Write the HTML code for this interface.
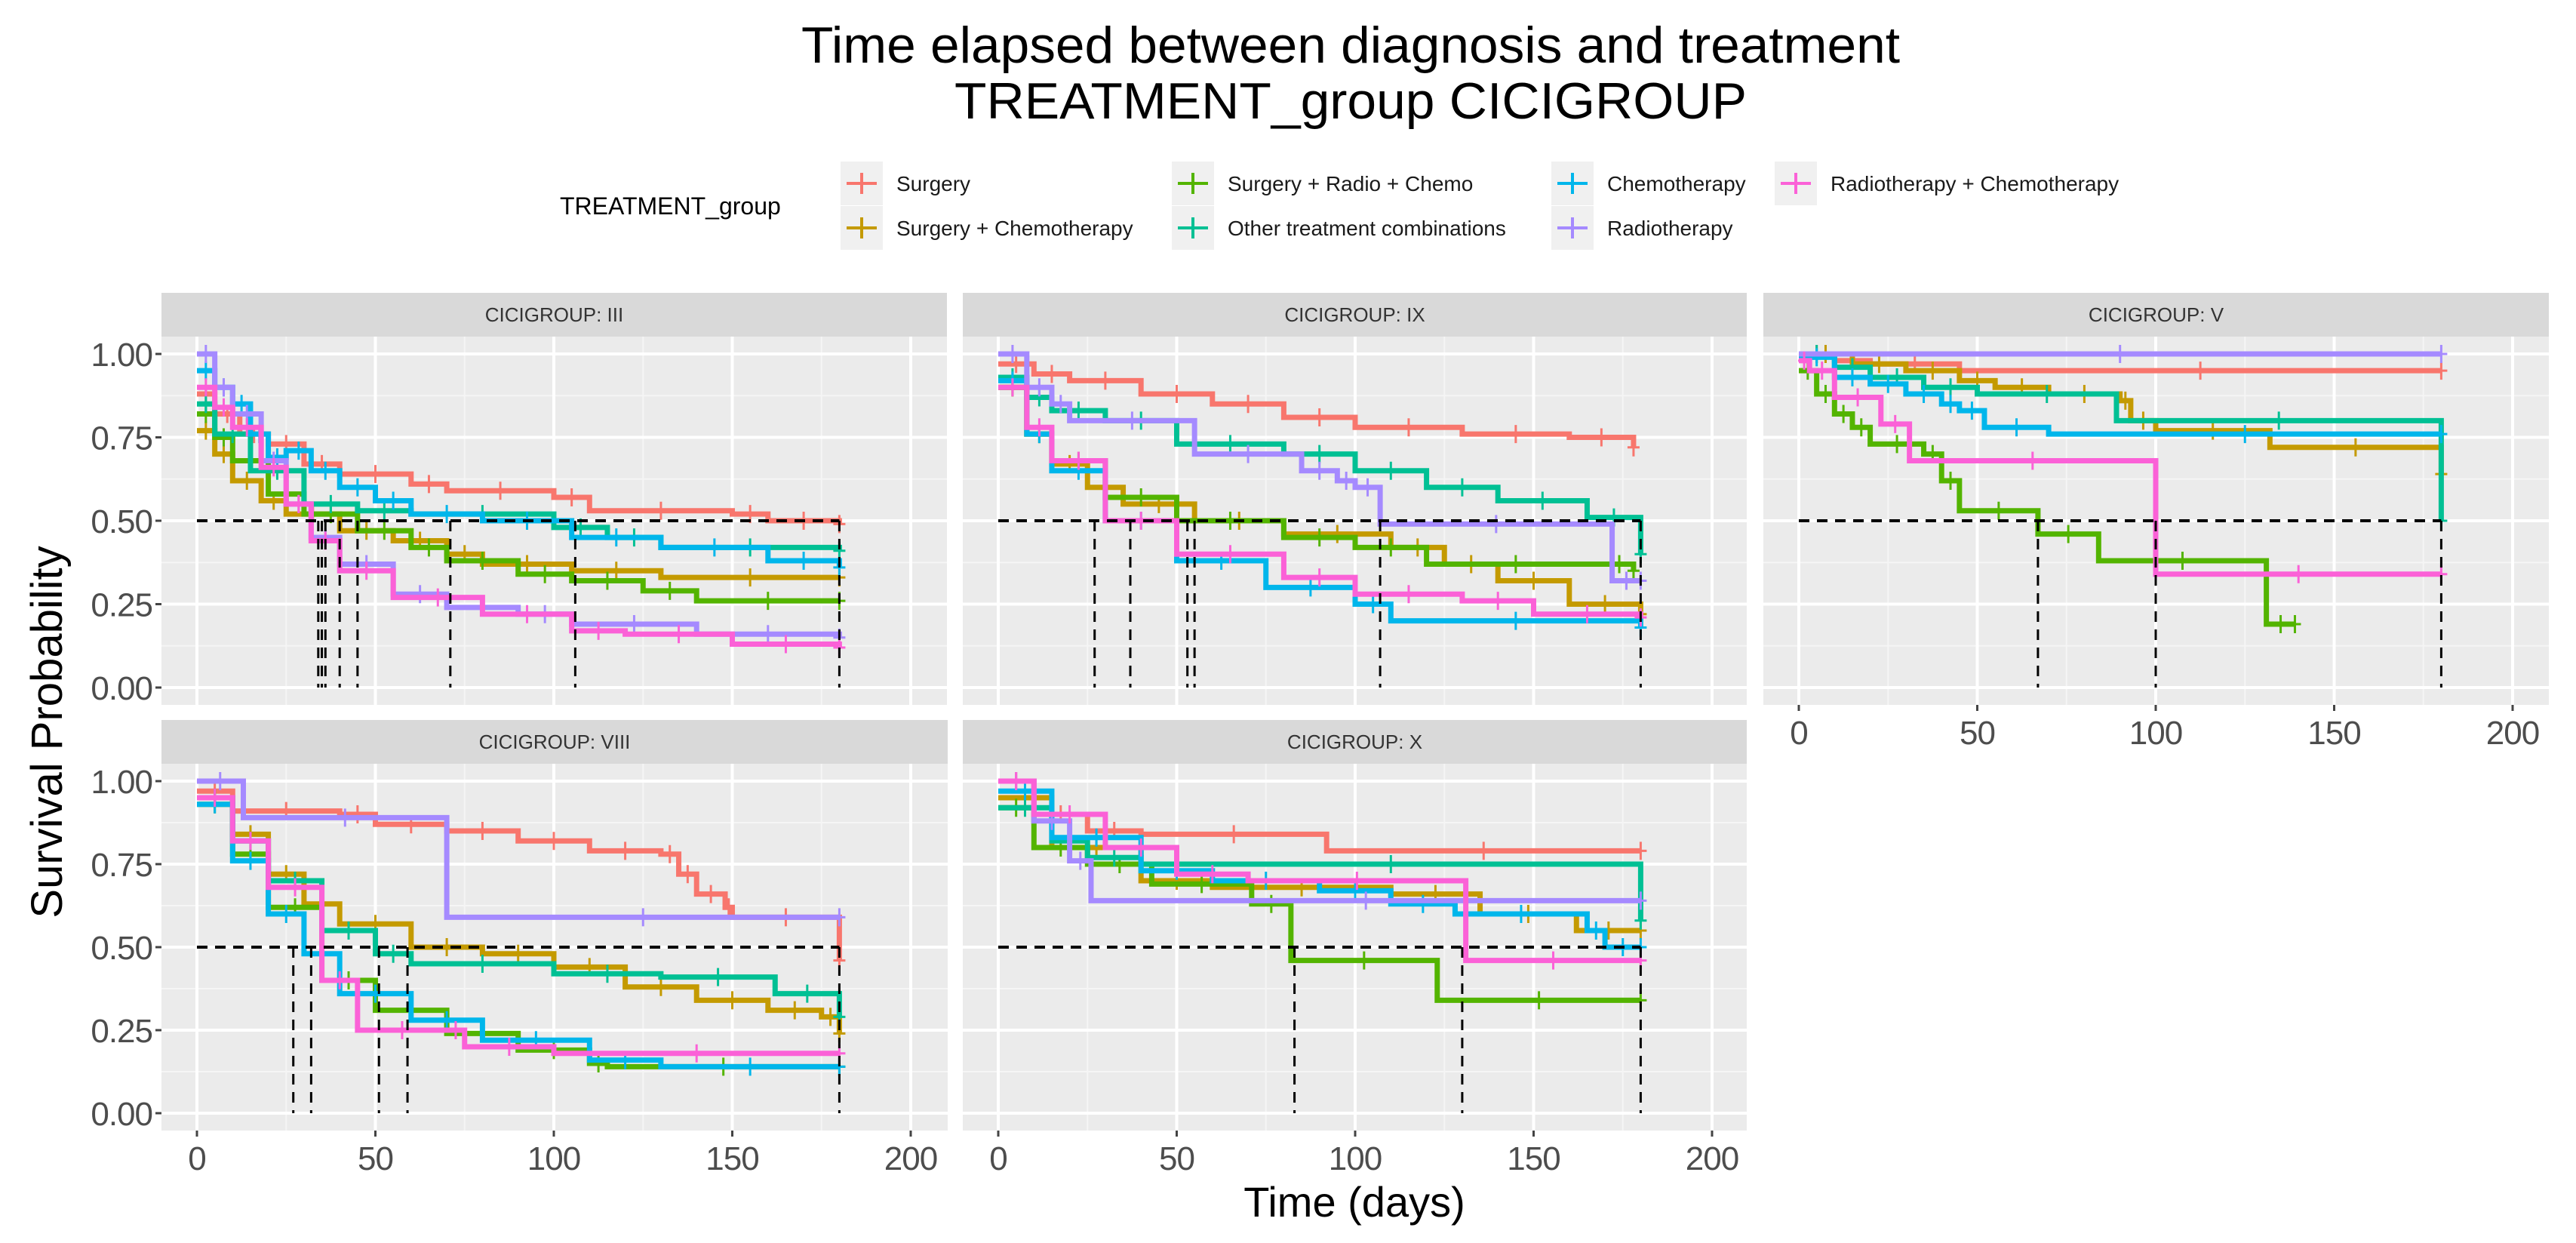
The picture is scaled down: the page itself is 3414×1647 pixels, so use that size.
<!DOCTYPE html>
<html><head><meta charset="utf-8"><style>
html,body{margin:0;padding:0;background:#fff;}
svg{display:block;font-family:"Liberation Sans",Arial,sans-serif;}
</style></head><body>
<svg id="chart" width="3414" height="1647" viewBox="0 0 3414 1647" xmlns="http://www.w3.org/2000/svg">
<text x="1790" y="83" font-size="68" text-anchor="middle" textLength="1456" lengthAdjust="spacingAndGlyphs" fill="#000">Time elapsed between diagnosis and treatment</text>
<text x="1790" y="157" font-size="68" text-anchor="middle" textLength="1050" lengthAdjust="spacingAndGlyphs" fill="#000">TREATMENT_group CICIGROUP</text>
<g id="legend"></g>
<g id="panels"></g>
<text transform="translate(82,970) rotate(-90)" font-size="58" text-anchor="middle" fill="#000">Survival Probability</text>
<text x="1795" y="1612" font-size="56" text-anchor="middle" fill="#000">Time (days)</text>
</svg>
<script>
const groups = ["Surgery","Surgery + Chemotherapy","Surgery + Radio + Chemo","Other treatment combinations","Chemotherapy","Radiotherapy","Radiotherapy + Chemotherapy"];
const colors = ["#F8766D","#C49A00","#53B400","#00C094","#00B6EB","#A58AFF","#FB61D7"];
const xTicks = [0,50,100,150,200];
const yTicks = [0,0.25,0.5,0.75,1];
const yTickLabels = ["0.00","0.25","0.50","0.75","1.00"];

const III_surg = [[0,0.88],[5,0.82],[12,0.76],[20,0.73],[30,0.67],[40,0.64],[60,0.61],[70,0.59],[100,0.57],[110,0.53],[150,0.52],[160,0.50],[180,0.49]];
const III_schemo = [[0,0.77],[5,0.7],[10,0.62],[18,0.56],[25,0.52],[40,0.47],[55,0.44],[70,0.40],[80,0.37],[105,0.35],[130,0.33],[180,0.33]];
const III_src = [[0,0.82],[5,0.75],[10,0.68],[20,0.58],[30,0.52],[45,0.47],[60,0.42],[70,0.38],[90,0.34],[105,0.32],[125,0.29],[140,0.26],[180,0.26]];
const III_other = [[0,0.85],[5,0.76],[15,0.65],[30,0.55],[45,0.53],[60,0.52],[100,0.48],[115,0.45],[130,0.42],[180,0.41]];
const III_chemo = [[0,0.95],[5,0.9],[10,0.85],[15,0.76],[20,0.69],[25,0.71],[32,0.65],[40,0.60],[50,0.56],[60,0.52],[80,0.50],[105,0.45],[130,0.42],[160,0.38],[180,0.36]];
const III_radio = [[0,1.0],[5,0.9],[10,0.82],[18,0.68],[25,0.55],[32,0.45],[40,0.37],[55,0.28],[70,0.24],[90,0.22],[105,0.19],[140,0.16],[180,0.15]];
const III_rc = [[0,0.90],[5,0.84],[10,0.78],[18,0.66],[25,0.55],[32,0.44],[40,0.35],[55,0.27],[80,0.22],[105,0.17],[120,0.16],[150,0.13],[180,0.12]];
const III_medians = [34,35,36,40,45,71,106,180];

const IX_surg = [[0,0.97],[10,0.94],[20,0.92],[40,0.88],[60,0.85],[80,0.81],[100,0.78],[130,0.76],[160,0.75],[178,0.72]];
const IX_schemo = [[0,0.90],[8,0.76],[15,0.67],[25,0.60],[35,0.55],[55,0.50],[80,0.46],[110,0.42],[125,0.37],[140,0.32],[160,0.25],[180,0.22]];
const IX_src = [[0,0.90],[8,0.76],[15,0.68],[30,0.57],[50,0.50],[80,0.45],[100,0.42],[120,0.37],[170,0.37],[178,0.35]];
const IX_other = [[0,0.93],[8,0.87],[15,0.83],[30,0.80],[50,0.73],[80,0.70],[100,0.65],[120,0.60],[140,0.56],[165,0.51],[180,0.40]];
const IX_chemo = [[0,0.92],[8,0.76],[15,0.65],[30,0.50],[50,0.38],[75,0.30],[100,0.25],[110,0.20],[180,0.18]];
const IX_radio = [[0,1.0],[8,0.9],[15,0.85],[20,0.80],[55,0.70],[85,0.65],[95,0.62],[100,0.60],[107,0.49],[172,0.32],[180,0.32]];
const IX_rc = [[0,0.90],[8,0.78],[15,0.68],[30,0.50],[50,0.40],[80,0.33],[100,0.28],[130,0.26],[150,0.22],[180,0.21]];
const IX_medians = [27,37,53,55,107,180];

const V_surg = [[0,1.0],[10,0.98],[20,0.97],[45,0.95],[180,0.95]];
const V_schemo = [[0,1.0],[15,0.97],[30,0.95],[45,0.92],[55,0.90],[70,0.88],[90,0.86],[93,0.80],[100,0.77],[132,0.72],[180,0.64]];
const V_src = [[0,0.95],[5,0.88],[10,0.82],[15,0.78],[20,0.73],[35,0.70],[40,0.62],[45,0.53],[67,0.46],[84,0.38],[131,0.19],[139,0.19]];
const V_other = [[0,1.0],[10,0.96],[20,0.93],[35,0.90],[50,0.88],[89,0.80],[180,0.50]];
const V_chemo = [[0,0.99],[10,0.93],[20,0.91],[30,0.88],[40,0.85],[45,0.83],[52,0.78],[70,0.76],[180,0.76]];
const V_radio = [[0,1.0],[180,1.0]];
const V_rc = [[0,0.98],[3,0.95],[10,0.87],[23,0.79],[31,0.68],[100,0.34],[180,0.34]];
const V_medians = [67,100,180];

const VIII_surg = [[0,0.97],[10,0.91],[40,0.90],[50,0.87],[70,0.85],[90,0.82],[110,0.79],[130,0.78],[135,0.72],[140,0.66],[148,0.62],[150,0.59],[180,0.46]];
const VIII_schemo = [[0,0.95],[10,0.84],[20,0.72],[30,0.63],[40,0.57],[60,0.50],[80,0.48],[100,0.44],[120,0.38],[140,0.34],[160,0.31],[175,0.29],[180,0.24]];
const VIII_src = [[0,0.93],[10,0.78],[20,0.62],[35,0.40],[50,0.31],[70,0.24],[90,0.19],[110,0.15],[115,0.14],[180,0.14]];
const VIII_other = [[0,0.95],[10,0.82],[20,0.70],[35,0.55],[50,0.48],[60,0.45],[100,0.42],[130,0.41],[162,0.36],[180,0.29]];
const VIII_chemo = [[0,0.93],[10,0.76],[20,0.60],[30,0.48],[40,0.36],[60,0.28],[80,0.22],[110,0.16],[130,0.14],[180,0.14]];
const VIII_radio = [[0,1.0],[13,0.89],[70,0.59],[180,0.59]];
const VIII_rc = [[0,0.95],[10,0.82],[20,0.68],[35,0.40],[45,0.25],[70,0.25],[75,0.20],[100,0.18],[180,0.18]];
const VIII_medians = [27,32,51,59,180];

const X_surg = [[0,1.0],[10,0.90],[25,0.85],[40,0.84],[92,0.79],[180,0.79]];
const X_schemo = [[0,0.95],[15,0.80],[40,0.70],[60,0.68],[110,0.66],[135,0.60],[162,0.55],[180,0.55]];
const X_src = [[0,0.92],[10,0.80],[25,0.75],[43,0.69],[71,0.63],[82,0.46],[123,0.34],[180,0.34]];
const X_other = [[0,0.92],[15,0.82],[25,0.77],[40,0.75],[180,0.58]];
const X_chemo = [[0,0.97],[15,0.83],[40,0.73],[60,0.70],[90,0.67],[110,0.63],[128,0.60],[165,0.55],[170,0.50],[180,0.50]];
const X_radio = [[0,1.0],[10,0.88],[20,0.76],[26,0.64],[180,0.64]];
const X_rc = [[0,1.0],[10,0.90],[30,0.80],[50,0.72],[70,0.70],[131,0.46],[180,0.46]];
const X_medians = [83,130,180];

const NS = "http://www.w3.org/2000/svg";
function mk(tag, attrs, parent){
  const e = document.createElementNS(NS, tag);
  for (const k in attrs) e.setAttribute(k, attrs[k]);
  parent.appendChild(e);
  return e;
}

const panelDefs = [
  {label:"CICIGROUP: III", key:"iii", x0:214, x1:1255, st:388, pt:446, pb:934, series:[III_surg,III_schemo,III_src,III_other,III_chemo,III_radio,III_rc], med:III_medians, ylab:true, xlab:false},
  {label:"CICIGROUP: IX", key:"ix", x0:1276, x1:2315, st:388, pt:446, pb:934, series:[IX_surg,IX_schemo,IX_src,IX_other,IX_chemo,IX_radio,IX_rc], med:IX_medians, ylab:false, xlab:false},
  {label:"CICIGROUP: V", key:"v", x0:2337, x1:3378, st:388, pt:446, pb:934, series:[V_surg,V_schemo,V_src,V_other,V_chemo,V_radio,V_rc], med:V_medians, ylab:false, xlab:true},
  {label:"CICIGROUP: VIII", key:"viii", x0:214, x1:1256, st:954, pt:1012, pb:1498, series:[VIII_surg,VIII_schemo,VIII_src,VIII_other,VIII_chemo,VIII_radio,VIII_rc], med:VIII_medians, ylab:true, xlab:true},
  {label:"CICIGROUP: X", key:"x", x0:1276, x1:2315, st:954, pt:1012, pb:1498, series:[X_surg,X_schemo,X_src,X_other,X_chemo,X_radio,X_rc], med:X_medians, ylab:false, xlab:true}
];

const root = document.getElementById("panels");
panelDefs.forEach(p => {
  const g = mk("g", {}, root);
  
  
  const W = p.x1 - p.x0;
  const xScale = d => p.x0 + 47 + d * 4.73;
  const y1 = p.pt + 23, y0 = p.pb - 23;
  const yScale = v => y0 - v * (y0 - y1);
  const strip = mk("rect", {x:p.x0, y:p.st, width:W, height:p.pt-p.st, fill:"#d9d9d9"}, g);
  
  
  const st = mk("text", {x:p.x0+W/2, y:(p.st+p.pt)/2+9, "font-size":26, "text-anchor":"middle", fill:"#333"}, g);
  st.textContent = p.label;
  
  
  const bg = mk("rect", {x:p.x0, y:p.pt, width:W, height:p.pb-p.pt, fill:"#ebebeb"}, g);
  
  
  for (let i=0;i<xTicks.length-1;i++){
    const xm = xScale((xTicks[i]+xTicks[i+1])/2);
    mk("line",{x1:xm,x2:xm,y1:p.pt,y2:p.pb,stroke:"#f5f5f5","stroke-width":2},g);
  }
  for (let i=0;i<yTicks.length-1;i++){
    const ym = yScale((yTicks[i]+yTicks[i+1])/2);
    mk("line",{x1:p.x0,x2:p.x1,y1:ym,y2:ym,stroke:"#f5f5f5","stroke-width":2},g);
  }
  xTicks.forEach(t => { const x = xScale(t); mk("line",{x1:x,x2:x,y1:p.pt,y2:p.pb,stroke:"#fff","stroke-width":4},g); });
  yTicks.forEach(t => { const y = yScale(t); mk("line",{x1:p.x0,x2:p.x1,y1:y,y2:y,stroke:"#fff","stroke-width":4},g); });
  if (p.ylab){
    yTicks.forEach((t,i) => {
      const y = yScale(t);
      mk("line",{x1:p.x0-8,x2:p.x0,y1:y,y2:y,stroke:"#444","stroke-width":3},g);
      const tl = mk("text",{x:p.x0-12,y:y+16,"font-size":44,"text-anchor":"end",fill:"#4d4d4d","letter-spacing":"-1"},g);
      tl.textContent = yTickLabels[i];
      
      
    });
  }
  if (p.xlab){
    xTicks.forEach(t => {
      const x = xScale(t);
      mk("line",{x1:x,x2:x,y1:p.pb,y2:p.pb+8,stroke:"#444","stroke-width":3},g);
      const tl = mk("text",{x:x,y:p.pb+52,"font-size":44,"text-anchor":"middle",fill:"#4d4d4d","letter-spacing":"-1"},g);
      tl.textContent = String(t);
      
      
    });
  }
  p.series.forEach((pts, si) => {
    let d = "M" + xScale(pts[0][0]) + "," + yScale(pts[0][1]);
    for (let i=1;i<pts.length;i++){
      d += " H" + xScale(pts[i][0]) + " V" + yScale(pts[i][1]);
    }
    const path = mk("path",{d:d,fill:"none",stroke:colors[si],"stroke-width":7,"stroke-linejoin":"miter"},g);
    
    
    for (let i=0;i<pts.length-1;i++){
      const tm = (pts[i][0]+pts[i+1][0])/2;
      const x = xScale(tm), y = yScale(pts[i][1]);
      const c = mk("path",{d:`M${x},${y-12} V${y+12} M${x-8},${y} H${x+8}`,stroke:colors[si],"stroke-width":3},g);
      
      
    }
    const last = pts[pts.length-1];
    const lx = xScale(last[0]), ly = yScale(last[1]);
    const c2 = mk("path",{d:`M${lx},${ly-12} V${ly+12} M${lx-8},${ly} H${lx+8}`,stroke:colors[si],"stroke-width":3},g);
    
    
  });
  const maxMed = Math.max(...p.med);
  const hl = mk("line",{x1:xScale(0),x2:xScale(maxMed),y1:yScale(0.5),y2:yScale(0.5),stroke:"#000","stroke-width":4,"stroke-dasharray":"14,10"},g);
  
  
  p.med.forEach(m => {
    const vl = mk("line",{x1:xScale(m),x2:xScale(m),y1:yScale(0.5),y2:yScale(0),stroke:"#000","stroke-width":3,"stroke-dasharray":"14,10"},g);
    
    
  });
});

const lg = document.getElementById("legend");
const lt = mk("text",{x:742,y:284,"font-size":32,fill:"#000"},lg);
lt.textContent = "TREATMENT_group";


const colX = [1142,1581,2084,2380];
const rowY = [243,302];
const order = [[0,0],[1,0],[0,1],[1,1],[0,2],[1,2],[0,3]];
groups.forEach((name,i) => {
  const row = order[i][0], col = order[i][1];
  const cx = colX[col], cy = rowY[row];
  const e = mk("g",{},lg);
  
  
  mk("rect",{x:cx-28,y:cy-29,width:56,height:58,fill:"#f0f0f0"},e);
  mk("path",{d:`M${cx-20},${cy} H${cx+20} M${cx},${cy-14} V${cy+14}`,stroke:colors[i],"stroke-width":4},e);
  const t = mk("text",{x:cx+46,y:cy+10,"font-size":28,fill:"#1a1a1a"},e);
  t.textContent = name;
});
</script>
</body></html>
